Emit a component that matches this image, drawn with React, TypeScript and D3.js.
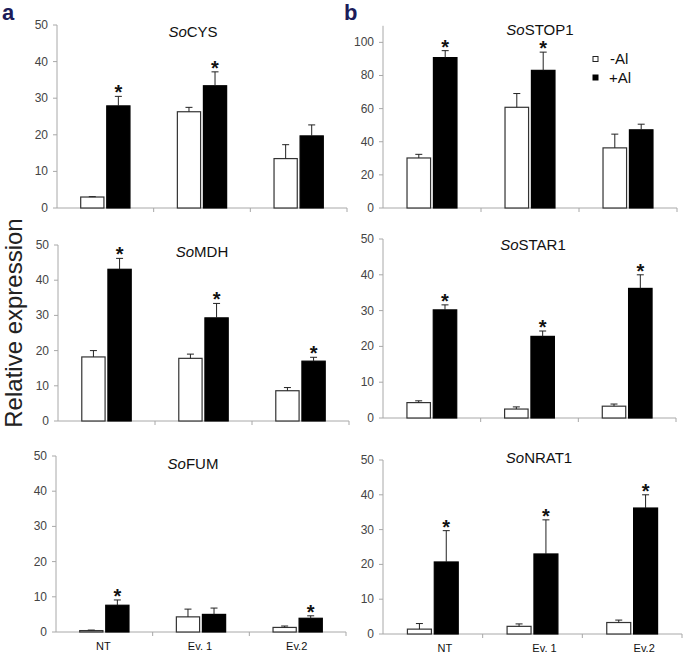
import React from "react";
import * as d3 from "d3";

// ---------- data ----------
const categories = ["NT", "Ev. 1", "Ev.2"];
const seriesNames = ["-Al", "+Al"];

const ticks50 = [0, 10, 20, 30, 40, 50];
const ticks100 = [0, 20, 40, 60, 80, 100];

// SoCYS
const cysMinus = [3.0, 26.3, 13.5];
const cysMinusErr = [0.1, 1.2, 3.8];
const cysPlus = [27.9, 33.4, 19.7];
const cysPlusErr = [2.6, 3.8, 3.0];
const cysSig = [true, true, false];

// SoMDH
const mdhMinus = [18.2, 17.8, 8.6];
const mdhMinusErr = [1.8, 1.2, 0.9];
const mdhPlus = [43.1, 29.3, 17.0];
const mdhPlusErr = [3.1, 4.1, 1.1];
const mdhSig = [true, true, true];

// SoFUM
const fumMinus = [0.4, 4.3, 1.3];
const fumMinusErr = [0.15, 2.2, 0.4];
const fumPlus = [7.6, 5.0, 3.9];
const fumPlusErr = [1.5, 1.8, 0.7];
const fumSig = [true, false, true];

// SoSTOP1
const stopMinus = [30.2, 60.8, 36.3];
const stopMinusErr = [2.2, 8.3, 8.3];
const stopPlus = [90.8, 83.1, 47.2];
const stopPlusErr = [4.2, 11.0, 3.4];
const stopSig = [true, true, false];

// SoSTAR1
const starMinus = [4.3, 2.5, 3.3];
const starMinusErr = [0.5, 0.6, 0.6];
const starPlus = [30.2, 22.8, 36.2];
const starPlusErr = [1.4, 1.5, 3.8];
const starSig = [true, true, true];

// SoNRAT1
const nratMinus = [1.4, 2.2, 3.3];
const nratMinusErr = [1.6, 0.7, 0.7];
const nratPlus = [20.7, 23.0, 36.2];
const nratPlusErr = [9.0, 9.8, 3.8];
const nratSig = [true, true, true];

const genes = [
  { gene: "CYS", minus: cysMinus, minusErr: cysMinusErr, plus: cysPlus, plusErr: cysPlusErr, sig: cysSig, max: 50, ticks: ticks50 },
  { gene: "MDH", minus: mdhMinus, minusErr: mdhMinusErr, plus: mdhPlus, plusErr: mdhPlusErr, sig: mdhSig, max: 50, ticks: ticks50 },
  { gene: "FUM", minus: fumMinus, minusErr: fumMinusErr, plus: fumPlus, plusErr: fumPlusErr, sig: fumSig, max: 50, ticks: ticks50 },
  { gene: "STOP1", minus: stopMinus, minusErr: stopMinusErr, plus: stopPlus, plusErr: stopPlusErr, sig: stopSig, max: 110, ticks: ticks100 },
  { gene: "STAR1", minus: starMinus, minusErr: starMinusErr, plus: starPlus, plusErr: starPlusErr, sig: starSig, max: 50, ticks: ticks50 },
  { gene: "NRAT1", minus: nratMinus, minusErr: nratMinusErr, plus: nratPlus, plusErr: nratPlusErr, sig: nratSig, max: 50, ticks: ticks50 },
];

// ---------- layout ----------
const layouts = [
  { x0: 57, x1: 347, yZero: 208, yTop: 25, titleX: 193, titleY: 37, xLabels: false, labelDx: 0 },
  { x0: 58, x1: 349, yZero: 421, yTop: 245, titleX: 202, titleY: 257, xLabels: false, labelDx: 0 },
  { x0: 56, x1: 346, yZero: 632, yTop: 456, titleX: 193, titleY: 469, xLabels: true, labelDx: -1 },
  { x0: 383, x1: 677, yZero: 208, yTop: 25.8, titleX: 540, titleY: 35, xLabels: false, labelDx: 0 },
  { x0: 383, x1: 676, yZero: 418, yTop: 239, titleX: 533, titleY: 250, xLabels: false, labelDx: 0 },
  { x0: 383, x1: 682, yZero: 634, yTop: 460, titleX: 539, titleY: 463, xLabels: true, labelDx: 12 },
];

const FONT = "'Liberation Sans', Arial, sans-serif";
const AXIS = "#a8a8a8";

function Panel({ g, L }: { g: any; L: any }) {
  const x = d3.scaleBand<string>().domain(categories).range([L.x0, L.x1]);
  const bw = x.bandwidth();
  const inner = d3
    .scaleBand<string>()
    .domain(seriesNames)
    .range([bw * 0.24, bw * 0.76])
    .paddingInner(0.07);
  const y = d3.scaleLinear().domain([0, g.max]).range([L.yZero, L.yTop]);
  const boundaries = categories.map((c) => (x(c) as number) + bw);

  const bars: any[] = [];
  categories.forEach((c, i) => {
    seriesNames.forEach((s, j) => {
      const v = j === 0 ? g.minus[i] : g.plus[i];
      const e = j === 0 ? g.minusErr[i] : g.plusErr[i];
      const bx = (x(c) as number) + (inner(s) as number);
      const w = inner.bandwidth();
      const cx = bx + w / 2;
      const top = y(v);
      const eTop = y(v + e);
      bars.push(
        <g key={c + s}>
          <rect
            x={bx + 0.5}
            y={top}
            width={w - 1}
            height={y(0) - top}
            fill={j === 0 ? "#fff" : "#000"}
            stroke={j === 0 ? "#333" : "#000"}
            strokeWidth={1.2}
          />
          <line x1={cx} x2={cx} y1={top} y2={eTop} stroke="#222" strokeWidth={1} />
          <line x1={cx - 3.5} x2={cx + 3.5} y1={eTop} y2={eTop} stroke="#222" strokeWidth={1} />
          {j === 1 && g.sig[i] ? (
            <text x={cx} y={eTop + 3} textAnchor="middle" fontSize={20} fontWeight="bold" fill="#111" fontFamily={FONT}>
              *
            </text>
          ) : null}
        </g>
      );
    });
  });

  return (
    <g>
      {/* y axis */}
      <line x1={L.x0} x2={L.x0} y1={L.yTop} y2={L.yZero} stroke={AXIS} />
      {g.ticks.map((t: number) => (
        <g key={t}>
          <line x1={L.x0 - 4} x2={L.x0} y1={y(t)} y2={y(t)} stroke={AXIS} />
          <text x={L.x0 - 9} y={y(t) + 4} textAnchor="end" fontSize={12} fill="#444" fontFamily={FONT}>
            {t}
          </text>
        </g>
      ))}
      {/* x axis */}
      <line x1={L.x0} x2={L.x1} y1={L.yZero} y2={L.yZero} stroke={AXIS} />
      {boundaries.map((b, i) => (
        <line key={i} x1={b} x2={b} y1={L.yZero} y2={L.yZero + 4} stroke={AXIS} />
      ))}
      {bars}
      <text x={L.titleX} y={L.titleY} textAnchor="middle" fontSize={15} fill="#111" fontFamily={FONT}>
        <tspan fontStyle="italic">So</tspan>
        <tspan>{g.gene}</tspan>
      </text>
      {L.xLabels
        ? categories.map((c) => (
            <text
              key={c}
              x={(x(c) as number) + bw / 2 + L.labelDx}
              y={L.yZero + 18}
              textAnchor="middle"
              fontSize={11}
              fill="#111"
              fontFamily={FONT}
            >
              {c}
            </text>
          ))
        : null}
    </g>
  );
}

export default function App() {
  return (
    <svg
      width={685}
      height={653}
      style={{ position: "absolute", left: 0, top: 0, background: "#fff" }}
    >
      <rect width={685} height={653} fill="#fff" />
      <text x={2} y={20} fontSize={22} fontWeight="bold" fill="#1c1c5a" fontFamily={FONT}>a</text>
      <text x={344} y={20} fontSize={22} fontWeight="bold" fill="#1c1c5a" fontFamily={FONT}>b</text>
      <text
        transform="translate(22,323) rotate(-90)"
        textAnchor="middle"
        fontSize={24}
        fill="#222"
        fontFamily={FONT}
      >
        Relative expression
      </text>
      {genes.map((g, i) => (
        <Panel key={g.gene} g={g} L={layouts[i]} />
      ))}
      {/* legend */}
      <rect x={593} y={56.5} width={5} height={5} fill="#fff" stroke="#222" strokeWidth={1} />
      <rect x={593} y={75} width={5} height={5} fill="#000" stroke="#000" strokeWidth={1} />
      <text x={610} y={64} fontSize={15} fill="#111" fontFamily={FONT}>{seriesNames[0]}</text>
      <text x={609} y={83} fontSize={15} fill="#111" fontFamily={FONT}>{seriesNames[1]}</text>
    </svg>
  );
}
